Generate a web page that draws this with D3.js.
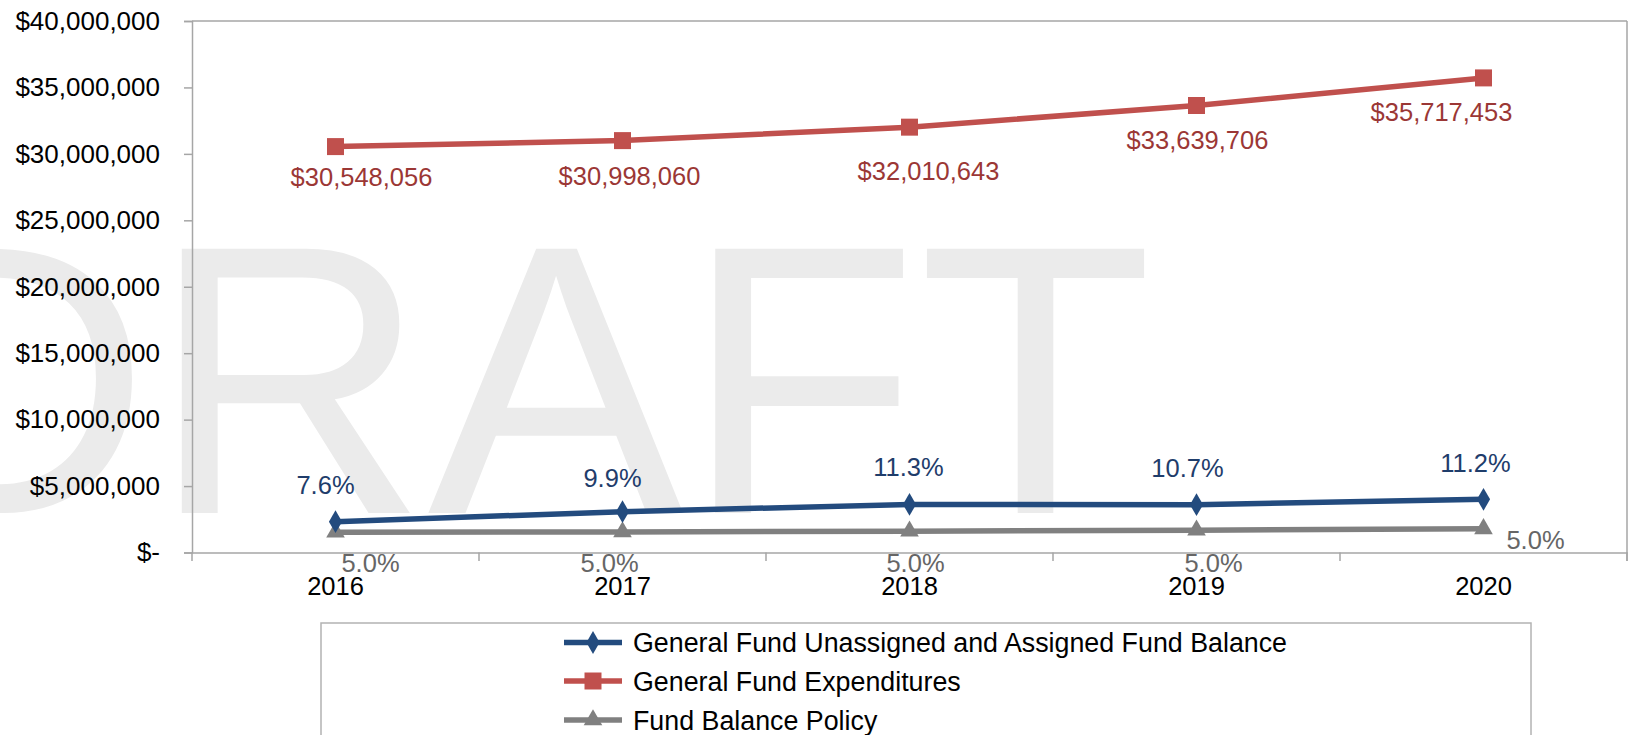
<!DOCTYPE html>
<html>
<head>
<meta charset="utf-8">
<script src="https://cdn.jsdelivr.net/npm/d3@7"></script>
<style>
  body { margin: 0; background: #fff; }
  svg { display: block; font-family: "Liberation Sans", Arial, sans-serif; }
</style>
</head>
<body>
<svg width="1632" height="735"></svg>
<script>
// chart data
var years = ["2016", "2017", "2018", "2019", "2020"];
var expenditures = [30548056, 30998060, 32010643, 33639706, 35717453];
var fundBalance = [2320000, 3070000, 3620000, 3600000, 4000000];
var fundBalancePct = ["7.6%", "9.9%", "11.3%", "10.7%", "11.2%"];
var policyBalance = [1527000, 1550000, 1600000, 1682000, 1786000];
var policyPct = ["5.0%", "5.0%", "5.0%", "5.0%", "5.0%"];
var yTicks = [0, 5000000, 10000000, 15000000, 20000000, 25000000, 30000000, 35000000, 40000000];
var seriesNames = ["General Fund Unassigned and Assigned Fund Balance", "General Fund Expenditures", "Fund Balance Policy"];

// label nudges (centre of label relative to point), as placed in the original
var redNudge = [[26, 30], [7, 35], [19, 44], [1, 34], [-42, 34]];
var blueNudge = [[-10, -37], [-10, -34], [-1, -37], [-9, -37], [-8, -36]];
var grayNudge = [[35, 31], [-13, 31], [6, 32], [17, 33], [52, 11]];

var blue = "#234b7e", red = "#c0504d", gray = "#808080", frame = "#a6a6a6";
var fontSize = 25.5;

var svg = d3.select("svg");

var x = d3.scaleBand()
    .domain(years)
    .range([192, 1627]);

var y = d3.scaleLinear()
    .domain([0, 40000000])
    .range([552.5, 21]);

function cx(i) { return x(years[i]) + x.bandwidth() / 2; }

// watermark
svg.append("text")
    .attr("x", -127)
    .attr("y", 513)
    .attr("font-size", 384)
    .attr("fill", "#ebebeb")
    .text("DRAFT");

// frame: top and right
svg.append("line")
    .attr("x1", 192).attr("x2", 1627).attr("y1", 21).attr("y2", 21)
    .attr("stroke", frame).attr("stroke-width", 1.5);
svg.append("line")
    .attr("x1", 1627).attr("x2", 1627).attr("y1", 21).attr("y2", 561)
    .attr("stroke", frame).attr("stroke-width", 1.5);

// y axis
var yAxis = svg.append("g")
    .attr("transform", "translate(192,0)")
    .call(d3.axisLeft(y)
        .tickValues(yTicks)
        .tickSize(8)
        .tickPadding(24)
        .tickFormat(function(d) { return d == 0 ? "$-" : "$" + d3.format(",")(d); }));
yAxis.selectAll("path, line").attr("stroke", frame).attr("stroke-width", 1.5);
yAxis.selectAll("text").attr("font-size", 26).attr("fill", "#000")
    .attr("font-family", "Liberation Sans, Arial, sans-serif");

// x axis
var xAxis = svg.append("g")
    .attr("transform", "translate(0,552.5)")
    .call(d3.axisBottom(x).tickSize(0).tickPadding(24.5));
xAxis.select("path").attr("stroke", frame).attr("stroke-width", 1.5);
xAxis.selectAll("text").attr("font-size", fontSize).attr("fill", "#000")
    .attr("font-family", "Liberation Sans, Arial, sans-serif");

// category boundary ticks
svg.append("g").selectAll("line")
    .data(years.concat(["end"]))
    .enter()
    .append("line")
    .attr("x1", function(d, i) { return 192 + i * x.bandwidth(); })
    .attr("x2", function(d, i) { return 192 + i * x.bandwidth(); })
    .attr("y1", 552.5).attr("y2", 561)
    .attr("stroke", frame).attr("stroke-width", 1.5);

var line = d3.line()
    .x(function(d, i) { return cx(i); })
    .y(function(d) { return y(d); });

function drawSeries(values, color, shape, size) {
    svg.append("path")
        .datum(values)
        .attr("d", line)
        .attr("fill", "none")
        .attr("stroke", color)
        .attr("stroke-width", 5.5);
    svg.append("g").selectAll("path")
        .data(values)
        .enter()
        .append("path")
        .attr("d", d3.symbol().type(shape).size(size))
        .attr("transform", function(d, i) { return "translate(" + cx(i) + "," + y(d) + ")"; })
        .attr("fill", color);
}

drawSeries(policyBalance, gray, d3.symbolTriangle, 150);
drawSeries(fundBalance, blue, d3.symbolDiamond, 150);
drawSeries(expenditures, red, d3.symbolSquare, 289);

function drawLabels(values, texts, nudge, color) {
    svg.append("g").selectAll("text")
        .data(values)
        .enter()
        .append("text")
        .attr("x", function(d, i) { return cx(i) + nudge[i][0]; })
        .attr("y", function(d, i) { return y(d) + nudge[i][1] + 9; })
        .attr("text-anchor", "middle")
        .attr("font-size", fontSize)
        .attr("fill", color)
        .text(function(d, i) { return texts[i]; });
}

drawLabels(expenditures, expenditures.map(function(d) { return "$" + d3.format(",")(d); }), redNudge, "#9b3735");
drawLabels(fundBalance, fundBalancePct, blueNudge, "#1f3d6b");
drawLabels(policyBalance, policyPct, grayNudge, "#666666");

// legend
svg.append("rect")
    .attr("x", 321).attr("y", 623)
    .attr("width", 1210).attr("height", 140)
    .attr("fill", "#fff")
    .attr("stroke", "#b3b3b3").attr("stroke-width", 1.5);

var legendColors = [blue, red, gray];
var legendShapes = [d3.symbolDiamond, d3.symbolSquare, d3.symbolTriangle];
var legendSizes = [150, 289, 150];
var legendRows = [642.5, 681, 720];

var legend = svg.append("g").selectAll("g")
    .data(seriesNames)
    .enter()
    .append("g")
    .attr("transform", function(d, i) { return "translate(0," + legendRows[i] + ")"; });

legend.append("line")
    .attr("x1", 564).attr("x2", 622)
    .attr("stroke", function(d, i) { return legendColors[i]; })
    .attr("stroke-width", 5.5);
legend.append("path")
    .attr("d", function(d, i) { return d3.symbol().type(legendShapes[i]).size(legendSizes[i])(); })
    .attr("transform", "translate(593,0)")
    .attr("fill", function(d, i) { return legendColors[i]; });
legend.append("text")
    .attr("x", 633)
    .attr("y", 9.5)
    .attr("font-size", 26.8)
    .attr("fill", "#000")
    .text(function(d) { return d; });
</script>
</body>
</html>
